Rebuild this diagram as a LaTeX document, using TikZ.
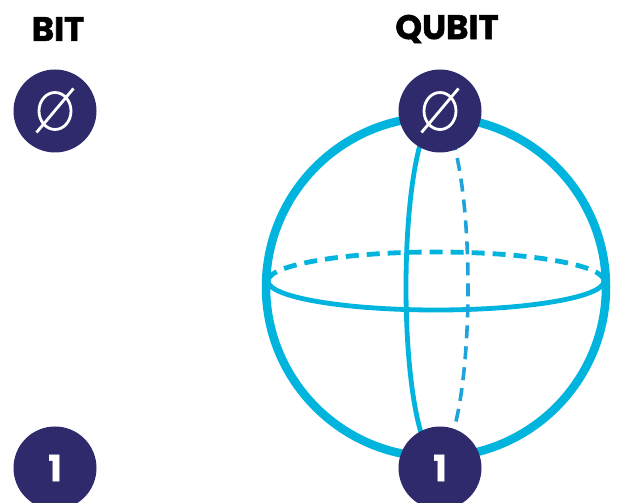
\documentclass[tikz,border=0pt]{standalone}
\usepackage{fontspec}
\setmainfont{Poppins}
\usetikzlibrary{calc}
\definecolor{sky}{HTML}{00B4DE}
\definecolor{skydark}{HTML}{1FA3DA}
\definecolor{navy}{HTML}{2E2A6B}
\begin{document}
\begin{tikzpicture}[x=1pt,y=1pt,
  title/.style={font=\fontsize{34}{36}\selectfont\bfseries\addfontfeatures{FakeBold=1.5}, text=black},
  state/.style={circle, fill=navy, minimum size=83pt, inner sep=0pt},
  digit/.style={font=\fontsize{36}{38}\selectfont\bfseries\addfontfeatures{FakeBold=1}, text=white},
  rim/.style={draw=sky, line width=8.5pt},
  ring/.style={draw=sky, line width=4.8pt},
  backring/.style={draw=sky, line width=4.8pt, dash pattern=on 13pt off 8pt},
  backmer/.style={draw=skydark, line width=3.6pt, dash pattern=on 13pt off 8pt},
  emptyset/.style={draw=white, line width=2.8pt}
]
\useasboundingbox (0,0) rectangle (621,503);
% titles
\node[title] (tbit) at (58,474) {BIT};
\node[title] (tqubit) at (447,474) {QUBIT};
% sphere
\coordinate (c) at (436,216);
\coordinate (eq) at (436,222);
\coordinate (mc) at (437,216);
\draw[rim] (c) circle[radius=170pt];
% equator
\draw[backring] (eq) ++(168pt,0) arc[start angle=0,end angle=180,x radius=168pt,y radius=29pt];
\draw[ring] (eq) ++(-168pt,0) arc[start angle=180,end angle=360,x radius=168pt,y radius=29pt];
% meridian
\draw[backmer] (mc) ++(0,-170pt) arc[start angle=-90,end angle=90,x radius=31pt,y radius=170pt];
\draw[ring] (mc) ++(0,170pt) arc[start angle=90,end angle=270,x radius=31pt,y radius=170pt];
% state nodes
\node[state] (b0) at (55,392) {};
\node[state] (b1) at (55,35) {};
\node[state] (q0) at (440,392) {};
\node[state] (q1) at (440,35) {};
\node[digit] (d1) at (b1) {1};
\node[digit] (d2) at (q1) {1};
% empty set symbols
\foreach \n in {b0,q0}{
  \draw[emptyset] (\n) ellipse[x radius=16pt,y radius=18.5pt];
  \draw[emptyset] ($(\n)+(-18.5pt,-21.5pt)$) -- ($(\n)+(18.5pt,22.5pt)$);
}
\end{tikzpicture}
\end{document}
